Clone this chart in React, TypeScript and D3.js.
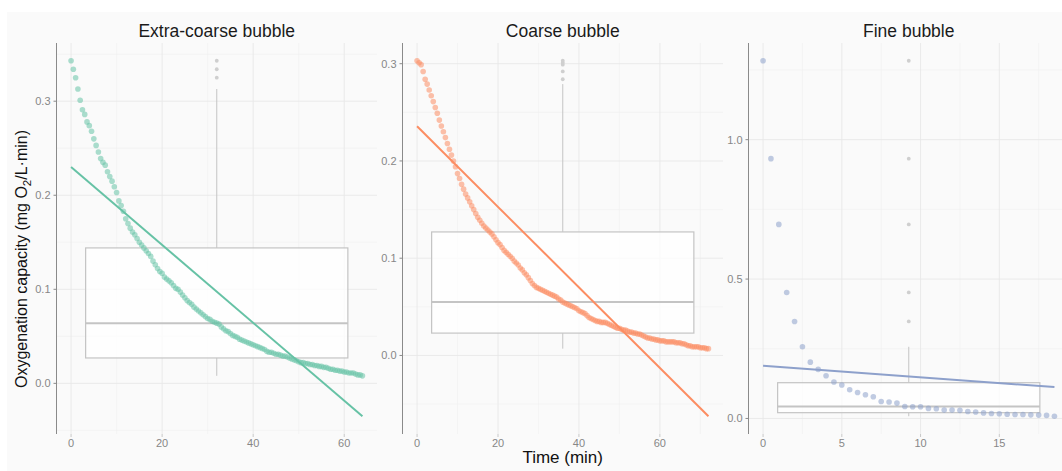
import * as d3 from 'd3'
import { useEffect, useRef } from 'react'

// panels
const panelTitles = ['Extra-coarse bubble', 'Coarse bubble', 'Fine bubble']
const seriesColors = ['#66c2a5', '#fc8d62', '#8da0cb']

// readings are taken every half minute
const sampleStep = 0.5

// oxygenation capacity (mg O2/L·min), one row = 5 min
const extraCoarseValues = [
    0.343, 0.334, 0.325, 0.313, 0.301, 0.291, 0.286, 0.278, 0.274, 0.268,
    0.26, 0.253, 0.246, 0.239, 0.235, 0.232, 0.225, 0.22, 0.215, 0.209,
    0.203, 0.194, 0.189, 0.183, 0.175, 0.17, 0.165, 0.161, 0.158, 0.154,
    0.15, 0.147, 0.144, 0.141, 0.138, 0.135, 0.13, 0.126, 0.122, 0.119,
    0.117, 0.113, 0.111, 0.109, 0.107, 0.104, 0.101, 0.1, 0.097, 0.094,
    0.091, 0.088, 0.086, 0.084, 0.081, 0.079, 0.077, 0.075, 0.073, 0.071,
    0.069, 0.068, 0.066, 0.065, 0.064, 0.063, 0.06, 0.058, 0.056, 0.055,
    0.053, 0.051, 0.05, 0.049, 0.047, 0.046, 0.045, 0.044, 0.043, 0.042,
    0.041, 0.04, 0.039, 0.038, 0.037, 0.036, 0.034, 0.033, 0.033, 0.032,
    0.031, 0.031, 0.03, 0.029, 0.029, 0.028, 0.027, 0.026, 0.025, 0.024,
    0.023, 0.022, 0.022, 0.021, 0.021, 0.02, 0.02, 0.019, 0.019, 0.018,
    0.018, 0.017, 0.017, 0.016, 0.015, 0.015, 0.014, 0.014, 0.013, 0.013,
    0.012, 0.012, 0.011, 0.011, 0.011, 0.01, 0.009, 0.009, 0.008,
]

const coarseValues = [
    0.303, 0.301, 0.299, 0.292, 0.284, 0.279, 0.273, 0.267, 0.261, 0.255,
    0.249, 0.242, 0.236, 0.23, 0.224, 0.218, 0.212, 0.206, 0.2, 0.194,
    0.187, 0.182, 0.176, 0.171, 0.166, 0.162, 0.158, 0.154, 0.15, 0.146,
    0.142, 0.139, 0.136, 0.133, 0.131, 0.129, 0.127, 0.125, 0.122, 0.119,
    0.116, 0.114, 0.111, 0.108, 0.106, 0.104, 0.102, 0.1, 0.097, 0.095,
    0.093, 0.09, 0.088, 0.085, 0.083, 0.08, 0.077, 0.074, 0.072, 0.07,
    0.069, 0.068, 0.067, 0.066, 0.065, 0.064, 0.063, 0.062, 0.061, 0.06,
    0.058, 0.057, 0.055, 0.054, 0.053, 0.052, 0.051, 0.05, 0.049, 0.048,
    0.046, 0.045, 0.044, 0.043, 0.041, 0.039, 0.038, 0.037, 0.036, 0.035,
    0.035, 0.034, 0.034, 0.034, 0.033, 0.032, 0.031, 0.03, 0.029, 0.028,
    0.028, 0.027, 0.026, 0.026, 0.025, 0.024, 0.024, 0.023, 0.023, 0.022,
    0.022, 0.021, 0.02, 0.019, 0.018, 0.018, 0.017, 0.017, 0.016, 0.016,
    0.015, 0.015, 0.015, 0.014, 0.014, 0.014, 0.014, 0.014, 0.013, 0.013,
    0.013, 0.012, 0.012, 0.011, 0.01, 0.01, 0.009, 0.009, 0.009, 0.009,
    0.008, 0.008, 0.008, 0.007, 0.007,
]

const fineValues = [
    1.283, 0.932, 0.696, 0.452, 0.348, 0.257, 0.202, 0.176, 0.153, 0.131,
    0.12, 0.103, 0.093, 0.085, 0.078, 0.061, 0.059, 0.055, 0.043, 0.042,
    0.042, 0.036, 0.035, 0.03, 0.03, 0.029, 0.025, 0.023, 0.02, 0.018,
    0.017, 0.015, 0.014, 0.014, 0.013, 0.012, 0.011, 0.008,
]

const panelValues = [extraCoarseValues, coarseValues, fineValues]

// fitted lines (shared slope, one intercept per panel)
const fitIntercepts = [0.23, 0.2356, 0.189]
const fitSlope = -0.00414

// axis ticks
const xTicks = [
    [0, 20, 40, 60],
    [0, 20, 40, 60],
    [0, 5, 10, 15],
]
const yTicks = [
    [0, 0.1, 0.2, 0.3],
    [0, 0.1, 0.2, 0.3],
    [0, 0.5, 1],
]

const width = 1062
const height = 471

// midpoints between major ticks, one step beyond on each side
function minorTicks(ticks: number[]) {
    const step = ticks[1] - ticks[0]
    const out: number[] = []
    for (let k = -1; k < ticks.length; k++) out.push(ticks[0] + step * (k + 0.5))
    return out
}

export default function App() {
    const svgRef = useRef<SVGSVGElement>(null)

    useEffect(() => {
        if (!svgRef.current) return
        const svg = d3.select(svgRef.current)
        svg.selectAll('*').remove()

        const font = "'Liberation Sans', Arial, sans-serif"
        const top = 43
        const bottom = 434
        const panelLeft = [56.5, 402.5, 748.5]
        const panelWidth = 320.5

        svg.append('rect')
            .attr('x', 7)
            .attr('y', 12)
            .attr('width', width - 7)
            .attr('height', height - 12)
            .attr('fill', '#fafafa')

        panelValues.forEach((values, i) => {
            const color = seriesColors[i]
            const points = values.map((v, j) => ({ t: j * sampleStep, v }))
            const tMax = points[points.length - 1].t
            const fit = (t: number) => fitIntercepts[i] + fitSlope * t

            const xPad = tMax * 0.05
            const x = d3
                .scaleLinear()
                .domain([-xPad, tMax + xPad])
                .range([panelLeft[i], panelLeft[i] + panelWidth])

            const lo = Math.min(d3.min(values) as number, fit(tMax))
            const hi = Math.max(d3.max(values) as number, fit(0))
            const yPad = (hi - lo) * 0.05
            const y = d3
                .scaleLinear()
                .domain([lo - yPad, hi + yPad])
                .range([bottom, top])

            const g = svg.append('g')
            const [x0, x1] = x.domain()
            const [y0, y1] = y.domain()

            // grid
            const xMinor = minorTicks(xTicks[i]).filter((t) => t >= x0 && t <= x1)
            const yMinor = minorTicks(yTicks[i]).filter((t) => t >= y0 && t <= y1)
            g.selectAll('.xminor')
                .data(xMinor)
                .enter()
                .append('line')
                .attr('x1', (d) => x(d))
                .attr('x2', (d) => x(d))
                .attr('y1', top)
                .attr('y2', bottom)
                .attr('stroke', '#f0f0f0')
                .attr('stroke-width', 0.6)
            g.selectAll('.yminor')
                .data(yMinor)
                .enter()
                .append('line')
                .attr('x1', x.range()[0])
                .attr('x2', x.range()[1])
                .attr('y1', (d) => y(d))
                .attr('y2', (d) => y(d))
                .attr('stroke', '#f0f0f0')
                .attr('stroke-width', 0.6)
            g.selectAll('.xmajor')
                .data(xTicks[i])
                .enter()
                .append('line')
                .attr('x1', (d) => x(d))
                .attr('x2', (d) => x(d))
                .attr('y1', top)
                .attr('y2', bottom)
                .attr('stroke', '#e8e8e8')
                .attr('stroke-width', 0.9)
            g.selectAll('.ymajor')
                .data(yTicks[i])
                .enter()
                .append('line')
                .attr('x1', x.range()[0])
                .attr('x2', x.range()[1])
                .attr('y1', (d) => y(d))
                .attr('y2', (d) => y(d))
                .attr('stroke', '#e8e8e8')
                .attr('stroke-width', 0.9)

            // boxplot of all values, centred on the time span
            const sorted = [...values].sort(d3.ascending)
            const q1 = d3.quantile(sorted, 0.25) as number
            const med = d3.quantile(sorted, 0.5) as number
            const q3 = d3.quantile(sorted, 0.75) as number
            const iqr = q3 - q1
            const inside = sorted.filter((v) => v >= q1 - 1.5 * iqr && v <= q3 + 1.5 * iqr)
            const wLo = d3.min(inside) as number
            const wHi = d3.max(inside) as number
            const outliers = sorted.filter((v) => v < wLo || v > wHi)
            const cx = tMax / 2
            const half = (tMax * 0.9) / 2

            g.append('line')
                .attr('x1', x(cx))
                .attr('x2', x(cx))
                .attr('y1', y(q3))
                .attr('y2', y(wHi))
                .attr('stroke', '#c4c4c4')
                .attr('stroke-width', 1)
            g.append('line')
                .attr('x1', x(cx))
                .attr('x2', x(cx))
                .attr('y1', y(q1))
                .attr('y2', y(wLo))
                .attr('stroke', '#c4c4c4')
                .attr('stroke-width', 1)
            g.append('rect')
                .attr('x', x(cx - half))
                .attr('y', y(q3))
                .attr('width', x(cx + half) - x(cx - half))
                .attr('height', y(q1) - y(q3))
                .attr('fill', '#ffffff')
                .attr('fill-opacity', 0.75)
                .attr('stroke', '#c4c4c4')
                .attr('stroke-width', 1.2)
            g.append('line')
                .attr('x1', x(cx - half))
                .attr('x2', x(cx + half))
                .attr('y1', y(med))
                .attr('y2', y(med))
                .attr('stroke', '#c4c4c4')
                .attr('stroke-width', 2)
            g.selectAll('.outlier')
                .data(outliers)
                .enter()
                .append('circle')
                .attr('cx', x(cx))
                .attr('cy', (d) => y(d))
                .attr('r', 1.9)
                .attr('fill', '#cfcfcf')

            // measured points
            g.selectAll('.pt')
                .data(points)
                .enter()
                .append('circle')
                .attr('cx', (d) => x(d.t))
                .attr('cy', (d) => y(d.v))
                .attr('r', 2.8)
                .attr('fill', color)
                .attr('fill-opacity', 0.55)

            // fitted line
            g.append('line')
                .attr('x1', x(0))
                .attr('x2', x(tMax))
                .attr('y1', y(fit(0)))
                .attr('y2', y(fit(tMax)))
                .attr('stroke', color)
                .attr('stroke-width', 2)

            // axes
            g.append('line')
                .attr('x1', x.range()[0])
                .attr('x2', x.range()[0])
                .attr('y1', top)
                .attr('y2', bottom)
                .attr('stroke', '#8a8a8a')
                .attr('stroke-width', 1)
            yTicks[i].forEach((t) => {
                g.append('line')
                    .attr('x1', x.range()[0] - 3)
                    .attr('x2', x.range()[0])
                    .attr('y1', y(t))
                    .attr('y2', y(t))
                    .attr('stroke', '#8a8a8a')
                g.append('text')
                    .attr('x', x.range()[0] - 6)
                    .attr('y', y(t))
                    .attr('dy', '0.35em')
                    .attr('text-anchor', 'end')
                    .attr('font-family', font)
                    .attr('font-size', 11)
                    .attr('fill', '#878787')
                    .text(d3.format('.1f')(t))
            })
            xTicks[i].forEach((t) => {
                g.append('line')
                    .attr('x1', x(t))
                    .attr('x2', x(t))
                    .attr('y1', bottom)
                    .attr('y2', bottom + 3)
                    .attr('stroke', '#c8c8c8')
                g.append('text')
                    .attr('x', x(t))
                    .attr('y', 443)
                    .attr('dy', '0.35em')
                    .attr('text-anchor', 'middle')
                    .attr('font-family', font)
                    .attr('font-size', 11)
                    .attr('fill', '#878787')
                    .text(String(t))
            })

            g.append('text')
                .attr('x', (x.range()[0] + x.range()[1]) / 2)
                .attr('y', 36.5)
                .attr('text-anchor', 'middle')
                .attr('font-family', font)
                .attr('font-size', 17.5)
                .attr('fill', '#1a1a1a')
                .text(panelTitles[i])
        })

        // shared axis titles
        const yLab = svg
            .append('text')
            .attr('transform', 'translate(27,259) rotate(-90)')
            .attr('text-anchor', 'middle')
            .attr('font-family', font)
            .attr('font-size', 16)
            .attr('fill', '#111')
        yLab.append('tspan').text('Oxygenation capacity (mg O')
        yLab.append('tspan').attr('font-size', 11.5).attr('dy', 4).text('2')
        yLab.append('tspan').attr('dy', -4).text('/L·min)')

        svg.append('text')
            .attr('x', 562.7)
            .attr('y', 463)
            .attr('text-anchor', 'middle')
            .attr('font-family', font)
            .attr('font-size', 17)
            .attr('fill', '#111')
            .text('Time (min)')
    }, [])

    return (
        <svg
            ref={svgRef}
            width={width}
            height={height}
            style={{ position: 'absolute', left: 0, top: 0, display: 'block' }}
        />
    )
}
